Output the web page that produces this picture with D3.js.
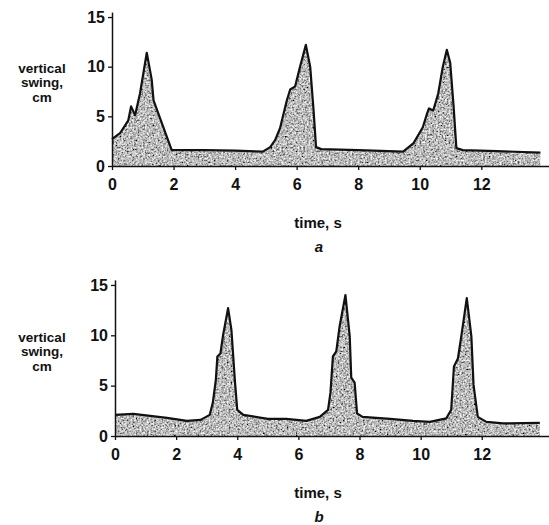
<!DOCTYPE html>
<html>
<head>
<meta charset="utf-8">
<script src="https://cdn.jsdelivr.net/npm/d3@7"></script>
<style>
  body { margin: 0; background: #fff; }
  text { font-family: "Liberation Sans", Arial, sans-serif; }
</style>
</head>
<body>
<script>
// chart a
const timeA = [0, 0.26, 0.53, 0.62, 0.75, 0.91, 1.13, 1.29, 1.35, 1.94, 3.0, 4.0, 4.9, 5.14, 5.3, 5.46, 5.68, 5.79, 5.95, 6.11, 6.3, 6.44, 6.55, 6.63, 6.8, 8.0, 9.46, 9.8, 10.1, 10.24, 10.3, 10.44, 10.6, 10.75, 10.88, 10.99, 11.1, 11.19, 11.4, 12.5, 13.92];
const swingA = [2.7, 3.3, 4.6, 6.0, 5.1, 7.3, 11.4, 8.7, 6.6, 1.6, 1.6, 1.55, 1.45, 1.9, 2.6, 3.8, 6.6, 7.7, 8.0, 10.0, 12.2, 10.0, 5.6, 1.9, 1.7, 1.6, 1.45, 2.3, 3.9, 5.3, 5.8, 5.6, 7.3, 10.0, 11.7, 10.4, 6.0, 1.8, 1.6, 1.5, 1.35];

// chart b
const timeB = [0, 0.6, 1.7, 2.35, 2.8, 3.1, 3.2, 3.3, 3.35, 3.45, 3.53, 3.7, 3.81, 3.92, 4.0, 4.2, 5.0, 5.6, 6.26, 6.7, 6.97, 7.05, 7.13, 7.24, 7.35, 7.54, 7.68, 7.73, 7.84, 7.92, 8.1, 9.0, 9.75, 10.3, 10.84, 11.0, 11.09, 11.22, 11.33, 11.51, 11.66, 11.73, 11.87, 12.15, 12.7, 13.9];
const swingB = [2.1, 2.2, 1.8, 1.5, 1.6, 2.1, 3.3, 5.6, 7.9, 8.2, 9.9, 12.7, 10.5, 5.6, 2.6, 2.1, 1.7, 1.7, 1.5, 1.9, 2.6, 4.3, 7.9, 8.4, 10.9, 14.0, 9.9, 5.8, 5.3, 2.25, 1.9, 1.7, 1.5, 1.4, 1.75, 2.6, 6.9, 7.7, 9.9, 13.7, 9.9, 5.1, 1.9, 1.4, 1.25, 1.3];

const xTicks = [0, 2, 4, 6, 8, 10, 12];
const yTicks = [0, 5, 10, 15];
const yLabel = ["vertical", "swing,", "cm"];

const svg = d3.select("body").append("svg")
    .attr("width", 549)
    .attr("height", 525);

// grainy print-like fill
const defs = svg.append("defs");
const f = defs.append("filter").attr("id", "grain")
    .attr("x", 0).attr("y", 0).attr("width", 1).attr("height", 1);
f.append("feTurbulence")
    .attr("type", "fractalNoise")
    .attr("baseFrequency", 0.55)
    .attr("numOctaves", 2)
    .attr("seed", 4)
    .attr("result", "noise");
f.append("feColorMatrix")
    .attr("in", "noise")
    .attr("type", "matrix")
    .attr("values", "1.6 0 0 0 -0.3  1.6 0 0 0 -0.3  1.6 0 0 0 -0.3  0 0 0 0 1")
    .attr("result", "gray");
f.append("feComposite")
    .attr("in", "gray")
    .attr("in2", "SourceGraphic")
    .attr("operator", "in");

function panel(times, values, opt) {
    const data = times.map((t, i) => ({t: t, v: values[i]}));
    const x = d3.scaleLinear().domain([0, 14.2]).range([opt.x0, 549]);
    const y = d3.scaleLinear().domain([0, 15.5]).range([opt.y0, opt.y0 - 15.5 * opt.unit]);
    const g = svg.append("g");

    g.append("path")
        .datum(data)
        .attr("d", d3.area().x(d => x(d.t)).y0(y(0)).y1(d => y(d.v)))
        .attr("fill", "#999")
        .attr("filter", "url(#grain)");

    g.append("path")
        .datum(data)
        .attr("d", d3.line().x(d => x(d.t)).y(d => y(d.v)))
        .attr("fill", "none")
        .attr("stroke", "#111")
        .attr("stroke-width", 2.2)
        .attr("stroke-linejoin", "round");

    const ax = g.append("g")
        .attr("transform", `translate(0,${opt.y0})`)
        .call(d3.axisBottom(x).tickValues(xTicks).tickSize(4).tickSizeOuter(0).tickPadding(9));
    const ay = g.append("g")
        .attr("transform", `translate(${opt.x0},0)`)
        .call(d3.axisLeft(y).tickValues(yTicks).tickSize(4).tickSizeOuter(0).tickPadding(3));

    [ax, ay].forEach(a => {
        a.select(".domain").attr("stroke", "#111").attr("stroke-width", 1.5);
        a.selectAll(".tick line").attr("stroke", "#111").attr("stroke-width", 1.3);
        a.selectAll("text")
            .attr("font-size", 16)
            .attr("font-weight", "bold")
            .attr("fill", "#111")
            .style("font-family", "'Liberation Sans', Arial, sans-serif");
    });

    yLabel.forEach((s, i) => {
        g.append("text")
            .attr("x", 42)
            .attr("y", opt.labY + i * 14.5)
            .attr("text-anchor", "middle")
            .attr("font-size", 13.5)
            .attr("font-weight", "bold")
            .attr("fill", "#111")
            .text(s);
    });

    g.append("text")
        .attr("x", 318)
        .attr("y", opt.y0 + 62)
        .attr("text-anchor", "middle")
        .attr("font-size", 15)
        .attr("font-weight", "bold")
        .attr("fill", "#111")
        .text("time, s");

    g.append("text")
        .attr("x", 319)
        .attr("y", opt.y0 + 86)
        .attr("text-anchor", "middle")
        .attr("font-size", 15)
        .attr("font-weight", "bold")
        .attr("font-style", "italic")
        .attr("fill", "#111")
        .text(opt.tag);
}

panel(timeA, swingA, {x0: 112, y0: 166, unit: 9.93, labY: 72.5, tag: "a"});
panel(timeB, swingB, {x0: 115, y0: 436, unit: 10.07, labY: 341.5, tag: "b"});
</script>
</body>
</html>
